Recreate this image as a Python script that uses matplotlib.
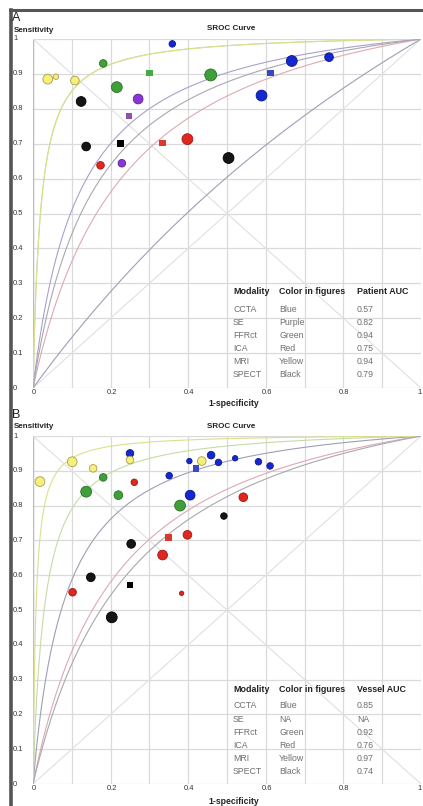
import numpy as np
import matplotlib
matplotlib.use("Agg")
import matplotlib.pyplot as plt

plt.rcParams['font.family'] = ['Liberation Sans', 'DejaVu Sans']

W, H = 423, 806

# ---- data ----
modalities = ['CCTA', 'SE', 'FFRct', 'ICA', 'MRI', 'SPECT']
color_names = ['Blue', 'Purple', 'Green', 'Red', 'Yellow', 'Black']
patient_auc = [0.57, 0.82, 0.94, 0.75, 0.94, 0.79]
vessel_auc = [0.85, None, 0.92, 0.76, 0.97, 0.74]

# panel A (patient level): study points (1-spec, sens, weight)
a_ccta_x = [0.359, 0.667, 0.763, 0.589]
a_ccta_y = [0.986, 0.937, 0.948, 0.838]
a_ccta_w = [6, 10, 8, 10]
a_se_x = [0.271, 0.229]
a_se_y = [0.828, 0.644]
a_se_w = [9, 7]
a_ffr_x = [0.181, 0.216, 0.458]
a_ffr_y = [0.930, 0.862, 0.897]
a_ffr_w = [7, 10, 11]
a_ica_x = [0.174, 0.398]
a_ica_y = [0.638, 0.713]
a_ica_w = [7, 10]
a_mri_x = [0.038, 0.059, 0.108]
a_mri_y = [0.885, 0.892, 0.881]
a_mri_w = [9, 5, 8]
a_spect_x = [0.124, 0.137, 0.504]
a_spect_y = [0.821, 0.692, 0.659]
a_spect_w = [9, 8, 10]
# pooled (square) points, panel A
a_sq_x = [0.612, 0.247, 0.300, 0.334, 0.226]
a_sq_y = [0.902, 0.779, 0.903, 0.702, 0.700]
a_sq_mod = ['CCTA', 'SE', 'FFRct', 'ICA', 'SPECT']

# panel B (vessel level)
b_ccta_x = [0.250, 0.351, 0.403, 0.459, 0.478, 0.521, 0.581, 0.611, 0.405]
b_ccta_y = [0.950, 0.886, 0.928, 0.945, 0.924, 0.936, 0.926, 0.914, 0.830]
b_ccta_w = [7, 6, 5, 7, 6, 5, 6, 6, 9]
b_ffr_x = [0.137, 0.181, 0.220, 0.379]
b_ffr_y = [0.840, 0.881, 0.830, 0.800]
b_ffr_w = [10, 7, 8, 10]
b_ica_x = [0.261, 0.542, 0.398, 0.334, 0.102, 0.383]
b_ica_y = [0.867, 0.824, 0.716, 0.658, 0.551, 0.548]
b_ica_w = [6, 8, 8, 9, 7, 4]
b_mri_x = [0.018, 0.101, 0.155, 0.250, 0.435]
b_mri_y = [0.869, 0.926, 0.907, 0.931, 0.928]
b_mri_w = [9, 9, 7, 7, 8]
b_spect_x = [0.492, 0.253, 0.149, 0.203]
b_spect_y = [0.770, 0.690, 0.594, 0.479]
b_spect_w = [6, 8, 8, 10]
b_sq_x = [0.420, 0.349, 0.250]
b_sq_y = [0.907, 0.708, 0.572]
b_sq_mod = ['CCTA', 'ICA', 'SPECT']

# ---- styles ----
dot_col = {'CCTA': '#1428d2', 'SE': '#8a35d6', 'FFRct': '#3f9f38',
           'ICA': '#e0261f', 'MRI': '#f6f07a', 'SPECT': '#151515'}
dot_edge = {'CCTA': '#0a1590', 'SE': '#5e2296', 'FFRct': '#2a7026',
            'ICA': '#a01812', 'MRI': '#a89c50', 'SPECT': '#000000'}
sq_col = {'CCTA': '#3848c8', 'SE': '#9050b0', 'FFRct': '#48a848',
          'ICA': '#d83a30', 'SPECT': '#000000'}
line_col = {'CCTA': '#9c9fb6', 'SE': '#aaa0cc', 'FFRct': '#c4dca6',
            'ICA': '#dcaab0', 'MRI': '#dcdf8c', 'SPECT': '#a8a8b0'}


def auc_from_k(k):
    return k / (k - 1) ** 2 * ((k - 1) - np.log(k))


def k_from_auc(auc):
    # symmetric SROC: find diagnostic odds ratio giving this AUC
    lo, hi = 1.0001, 1e5
    for _ in range(200):
        mid = np.sqrt(lo * hi)
        if auc_from_k(mid) < auc:
            lo = mid
        else:
            hi = mid
    return np.sqrt(lo * hi)


def px(x, y):
    return x / W, 1 - y / H


fig = plt.figure(figsize=(W / 100, H / 100), dpi=100)
fig.patch.set_facecolor('white')

# outer frame (top and left edges visible)
fig.add_artist(plt.Line2D([10 / W, 1], [1 - 10 / H, 1 - 10 / H], color='#555555', lw=2.2))
fig.add_artist(plt.Line2D([11 / W, 11 / W], [0, 1 - 10 / H], color='#555555', lw=2.6))


def panel(top, bottom, letter, aucs, auc_head, points, squares, lab_y, spec_y):
    x0, x1 = 33, 421
    l, b = px(x0, bottom)
    ax = fig.add_axes([l, b, (x1 - x0) / W, (bottom - top) / H])
    ax.set_xlim(0, 1)
    ax.set_ylim(0, 1)
    for s in ax.spines.values():
        s.set_visible(False)
    ax.set_xticks([])
    ax.set_yticks([])
    ax.patch.set_alpha(0)
    for g in np.arange(0, 1.01, 0.1):
        ax.axvline(g, color='#dadada', lw=0.9, zorder=0)
        ax.axhline(g, color='#dadada', lw=0.9, zorder=0)
    ax.axvline(0, color='#bcbccc', lw=1.0, zorder=0)

    xs = np.linspace(1e-5, 1, 800)
    ax.plot([0, 1], [0, 1], color='#e0e0e0', lw=0.8, zorder=1)
    ax.plot([0, 1], [1, 0], color='#e0e0e0', lw=0.8, zorder=1)
    for m, auc in zip(modalities, aucs):
        if auc is None:
            continue
        k = k_from_auc(auc)
        sens = 1 / (1 + (1 - xs) / (xs * k))
        ax.plot(np.r_[0, xs], np.r_[0, sens], color=line_col[m], lw=0.8, zorder=2)

    for m, xv, yv, wv in points:
        s = [(d * 0.78) ** 2 for d in wv]
        ax.scatter(xv, yv, s=s, c=dot_col[m], edgecolors=dot_edge[m],
                   linewidths=0.6, zorder=4, clip_on=False)
    for m, xv, yv in squares:
        ax.scatter([xv], [yv], s=22, marker='s', c=sq_col[m], edgecolors='none', zorder=4)

    # labels
    fig.text(*px(12, top - 21), letter, fontsize=9, va='center', ha='left', color='#222222')
    fig.text(*px(14, top - 9), 'Sensitivity', fontsize=5.8, fontweight='bold',
             va='center', ha='left', color='#222222')
    fig.text(*px(231, top - 10), 'SROC Curve', fontsize=5.8, fontweight='bold',
             va='center', ha='center', color='#222222')
    for v in np.arange(0, 1.01, 0.1):
        yy = bottom - v * (bottom - top)
        t = '0' if v < 0.01 else ('1' if v > 0.99 else f'{v:.1f}')
        fig.text(*px(13, yy), t, fontsize=5.4, va='center', ha='left', color='#333333')
    for v in [0, 0.2, 0.4, 0.6, 0.8, 1.0]:
        xx = x0 + v * (x1 - x0)
        t = '0' if v == 0 else ('1' if v == 1 else f'{v:.1f}')
        fig.text(*px(min(xx + 1, 420), lab_y), t, fontsize=5.4, va='center',
                 ha='center', color='#333333')
    fig.text(*px(208, spec_y), '1-specificity', fontsize=6.2, fontweight='bold',
             va='center', ha='left', color='#222222')

    # table
    head_y = top + 253
    fig.text(*px(233, head_y), 'Modality', fontsize=6.4, fontweight='bold', va='center', color='#222222')
    fig.text(*px(279, head_y), 'Color in figures', fontsize=6.4, fontweight='bold', va='center', color='#222222')
    fig.text(*px(357, head_y), auc_head, fontsize=6.4, fontweight='bold', va='center', color='#222222')
    for i, (m, cname, auc) in enumerate(zip(modalities, color_names, aucs)):
        yy = head_y + 17 + i * 13.1
        shown_c = cname if auc is not None else 'NA'
        shown_a = f'{auc:.2f}' if auc is not None else 'NA'
        fig.text(*px(233, yy), m, fontsize=6.3, va='center', color='#707070')
        fig.text(*px(279, yy), shown_c, fontsize=6.3, va='center', color='#707070')
        fig.text(*px(357, yy), shown_a, fontsize=6.3, va='center', color='#707070')
    return ax


pts_a = [('CCTA', a_ccta_x, a_ccta_y, a_ccta_w), ('SE', a_se_x, a_se_y, a_se_w),
         ('FFRct', a_ffr_x, a_ffr_y, a_ffr_w), ('ICA', a_ica_x, a_ica_y, a_ica_w),
         ('MRI', a_mri_x, a_mri_y, a_mri_w), ('SPECT', a_spect_x, a_spect_y, a_spect_w)]
sq_a = list(zip(a_sq_mod, a_sq_x, a_sq_y))
panel(39, 388, 'A', patient_auc, 'Patient AUC', pts_a, sq_a, 393, 404)

pts_b = [('CCTA', b_ccta_x, b_ccta_y, b_ccta_w), ('FFRct', b_ffr_x, b_ffr_y, b_ffr_w),
         ('ICA', b_ica_x, b_ica_y, b_ica_w), ('MRI', b_mri_x, b_mri_y, b_mri_w),
         ('SPECT', b_spect_x, b_spect_y, b_spect_w)]
sq_b = list(zip(b_sq_mod, b_sq_x, b_sq_y))
panel(436, 784, 'B', vessel_auc, 'Vessel AUC', pts_b, sq_b, 788, 802)

plt.savefig('out.png', dpi=100)
